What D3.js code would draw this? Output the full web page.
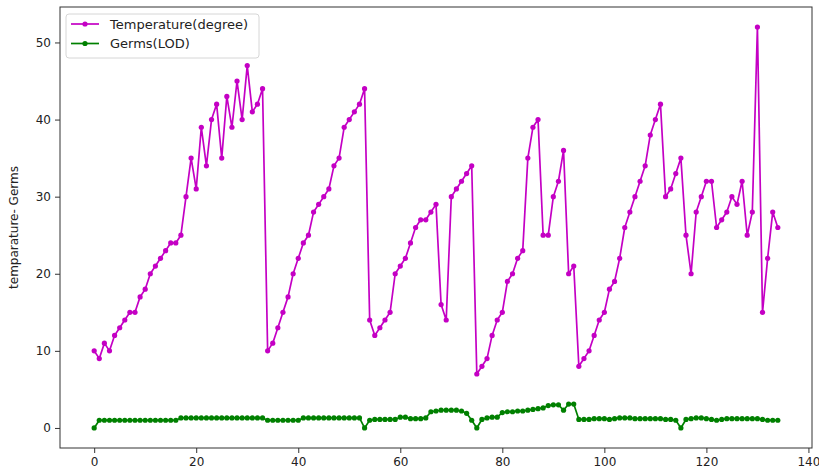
<!DOCTYPE html>
<html>
<head>
<meta charset="utf-8">
<script src="https://cdn.jsdelivr.net/npm/d3@7"></script>
<style>
  body { margin: 0; background: #fff; }
  text { font-family: "DejaVu Sans", sans-serif; }
</style>
</head>
<body>
<div id="chart"></div>
<script>
// temperature reading per sample (index = sample number)
const temperature = [
  10, 9, 11, 10, 12, 13, 14, 15, 15, 17, 18, 20, 21, 22, 23, 24, 24, 25, 30, 35,
  31, 39, 34, 40, 42, 35, 43, 39, 45, 40, 47, 41, 42, 44, 10, 11, 13, 15, 17, 20,
  22, 24, 25, 28, 29, 30, 31, 34, 35, 39, 40, 41, 42, 44, 14, 12, 13, 14, 15, 20,
  21, 22, 24, 26, 27, 27, 28, 29, 16, 14, 30, 31, 32, 33, 34, 7, 8, 9, 12, 14,
  15, 19, 20, 22, 23, 35, 39, 40, 25, 25, 30, 32, 36, 20, 21, 8, 9, 10, 12, 14,
  15, 18, 19, 22, 26, 28, 30, 32, 34, 38, 40, 42, 30, 31, 33, 35, 25, 20, 28, 30,
  32, 32, 26, 27, 28, 30, 29, 32, 25, 28, 52, 15, 22, 28, 26
];

const germs = [
  0, 1.0, 1.0, 1.0, 1.0, 1.0, 1.0, 1.0, 1.0, 1.0, 1.0, 1.0, 1.0, 1.0, 1.0, 1.0, 1.0, 1.3, 1.3, 1.3,
  1.3, 1.3, 1.3, 1.3, 1.3, 1.3, 1.3, 1.3, 1.3, 1.3, 1.3, 1.3, 1.3, 1.3, 1.0, 1.0, 1.0, 1.0, 1.0, 1.0,
  1.0, 1.3, 1.3, 1.3, 1.3, 1.3, 1.3, 1.3, 1.3, 1.3, 1.3, 1.3, 1.3, 0, 1.0, 1.1, 1.1, 1.1, 1.1, 1.1,
  1.4, 1.4, 1.2, 1.2, 1.2, 1.3, 2.1, 2.2, 2.3, 2.3, 2.3, 2.3, 2.2, 1.9, 1.0, 0, 1.1, 1.3, 1.4, 1.4,
  2.0, 2.1, 2.1, 2.2, 2.2, 2.3, 2.4, 2.5, 2.6, 2.9, 3.0, 3.0, 2.3, 3.1, 3.1, 1.1, 1.1, 1.1, 1.2, 1.2,
  1.2, 1.1, 1.2, 1.3, 1.3, 1.3, 1.2, 1.2, 1.2, 1.2, 1.2, 1.2, 1.1, 1.1, 1.0, 0, 1.1, 1.2, 1.3, 1.3,
  1.2, 1.1, 1.0, 1.1, 1.2, 1.2, 1.2, 1.2, 1.2, 1.2, 1.2, 1.1, 1.0, 1.0, 1.0
];

const xTicks = [0, 20, 40, 60, 80, 100, 120, 140];
const yTicks = [0, 10, 20, 30, 40, 50];

const series = [
  { label: "Temperature(degree)", values: temperature, color: "#c400c4" },
  { label: "Germs(LOD)",          values: germs,       color: "#008000" },
];

const W = 819, H = 473,
  M = { t: 7, r: 7, b: 25, l: 60 },
  w = W - M.l - M.r,
  h = H - M.t - M.b;

const svg = d3.select("#chart")
  .append("svg")
  .attr("width", W)
  .attr("height", H);
const g = svg.append("g").attr("transform", `translate(${M.l},${M.t})`);

// matplotlib-style 5% margins around the data
const n = temperature.length - 1;
const x = d3.scaleLinear().domain([-n * 0.05, n * 1.05]).range([0, w]);
const yMax = d3.max(series, s => d3.max(s.values));
const y = d3.scaleLinear().domain([-yMax * 0.05, yMax * 1.05]).range([h, 0]);

const xAx = g.append("g")
  .attr("transform", `translate(0,${h})`)
  .call(d3.axisBottom(x).tickValues(xTicks).tickSize(5).tickPadding(4).tickFormat(d3.format("d")));
const yAx = g.append("g")
  .call(d3.axisLeft(y).tickValues(yTicks).tickSize(5).tickPadding(4).tickFormat(d3.format("d")));
[xAx, yAx].forEach(ax => {
  ax.select(".domain").remove();
  ax.selectAll("line").attr("stroke", "#333");
  ax.selectAll("text").attr("fill", "#222").style("font-size", "12px").style("font-family", "DejaVu Sans");
});

// frame
g.append("rect")
  .attr("width", w)
  .attr("height", h)
  .attr("fill", "none")
  .attr("stroke", "#333")
  .attr("stroke-width", 1);

svg.append("text")
  .attr("transform", `translate(18,${M.t + h / 2}) rotate(-90)`)
  .attr("text-anchor", "middle")
  .attr("fill", "#222")
  .style("font-size", "12px")
  .text("temparature- Germs");

const line = d3.line().x((d, i) => x(i)).y(d => y(d));

series.forEach(s => {
  g.append("path")
    .datum(s.values)
    .attr("d", line)
    .attr("fill", "none")
    .attr("stroke", s.color)
    .attr("stroke-width", 1.7)
    .attr("stroke-linejoin", "round");
  g.selectAll(null)
    .data(s.values)
    .enter()
    .append("circle")
    .attr("cx", (d, i) => x(i))
    .attr("cy", d => y(d))
    .attr("r", 2.6)
    .attr("fill", s.color);
});

// legend
const lg = svg.append("g").attr("transform", "translate(66,14)");
lg.append("rect")
  .attr("width", 193)
  .attr("height", 44)
  .attr("rx", 3)
  .attr("fill", "#fff")
  .attr("fill-opacity", 0.8)
  .attr("stroke", "#d6d6d6");
series.forEach((s, i) => {
  const row = lg.append("g").attr("transform", `translate(0,${10 + i * 19.5})`);
  row.append("line")
    .attr("x1", 5).attr("x2", 33)
    .attr("stroke", s.color)
    .attr("stroke-width", 1.7);
  row.append("circle")
    .attr("cx", 19)
    .attr("r", 2.6)
    .attr("fill", s.color);
  row.append("text")
    .attr("x", 44)
    .attr("dy", "0.35em")
    .attr("fill", "#222")
    .style("font-size", "13px")
    .text(s.label);
});
</script>
</body>
</html>
